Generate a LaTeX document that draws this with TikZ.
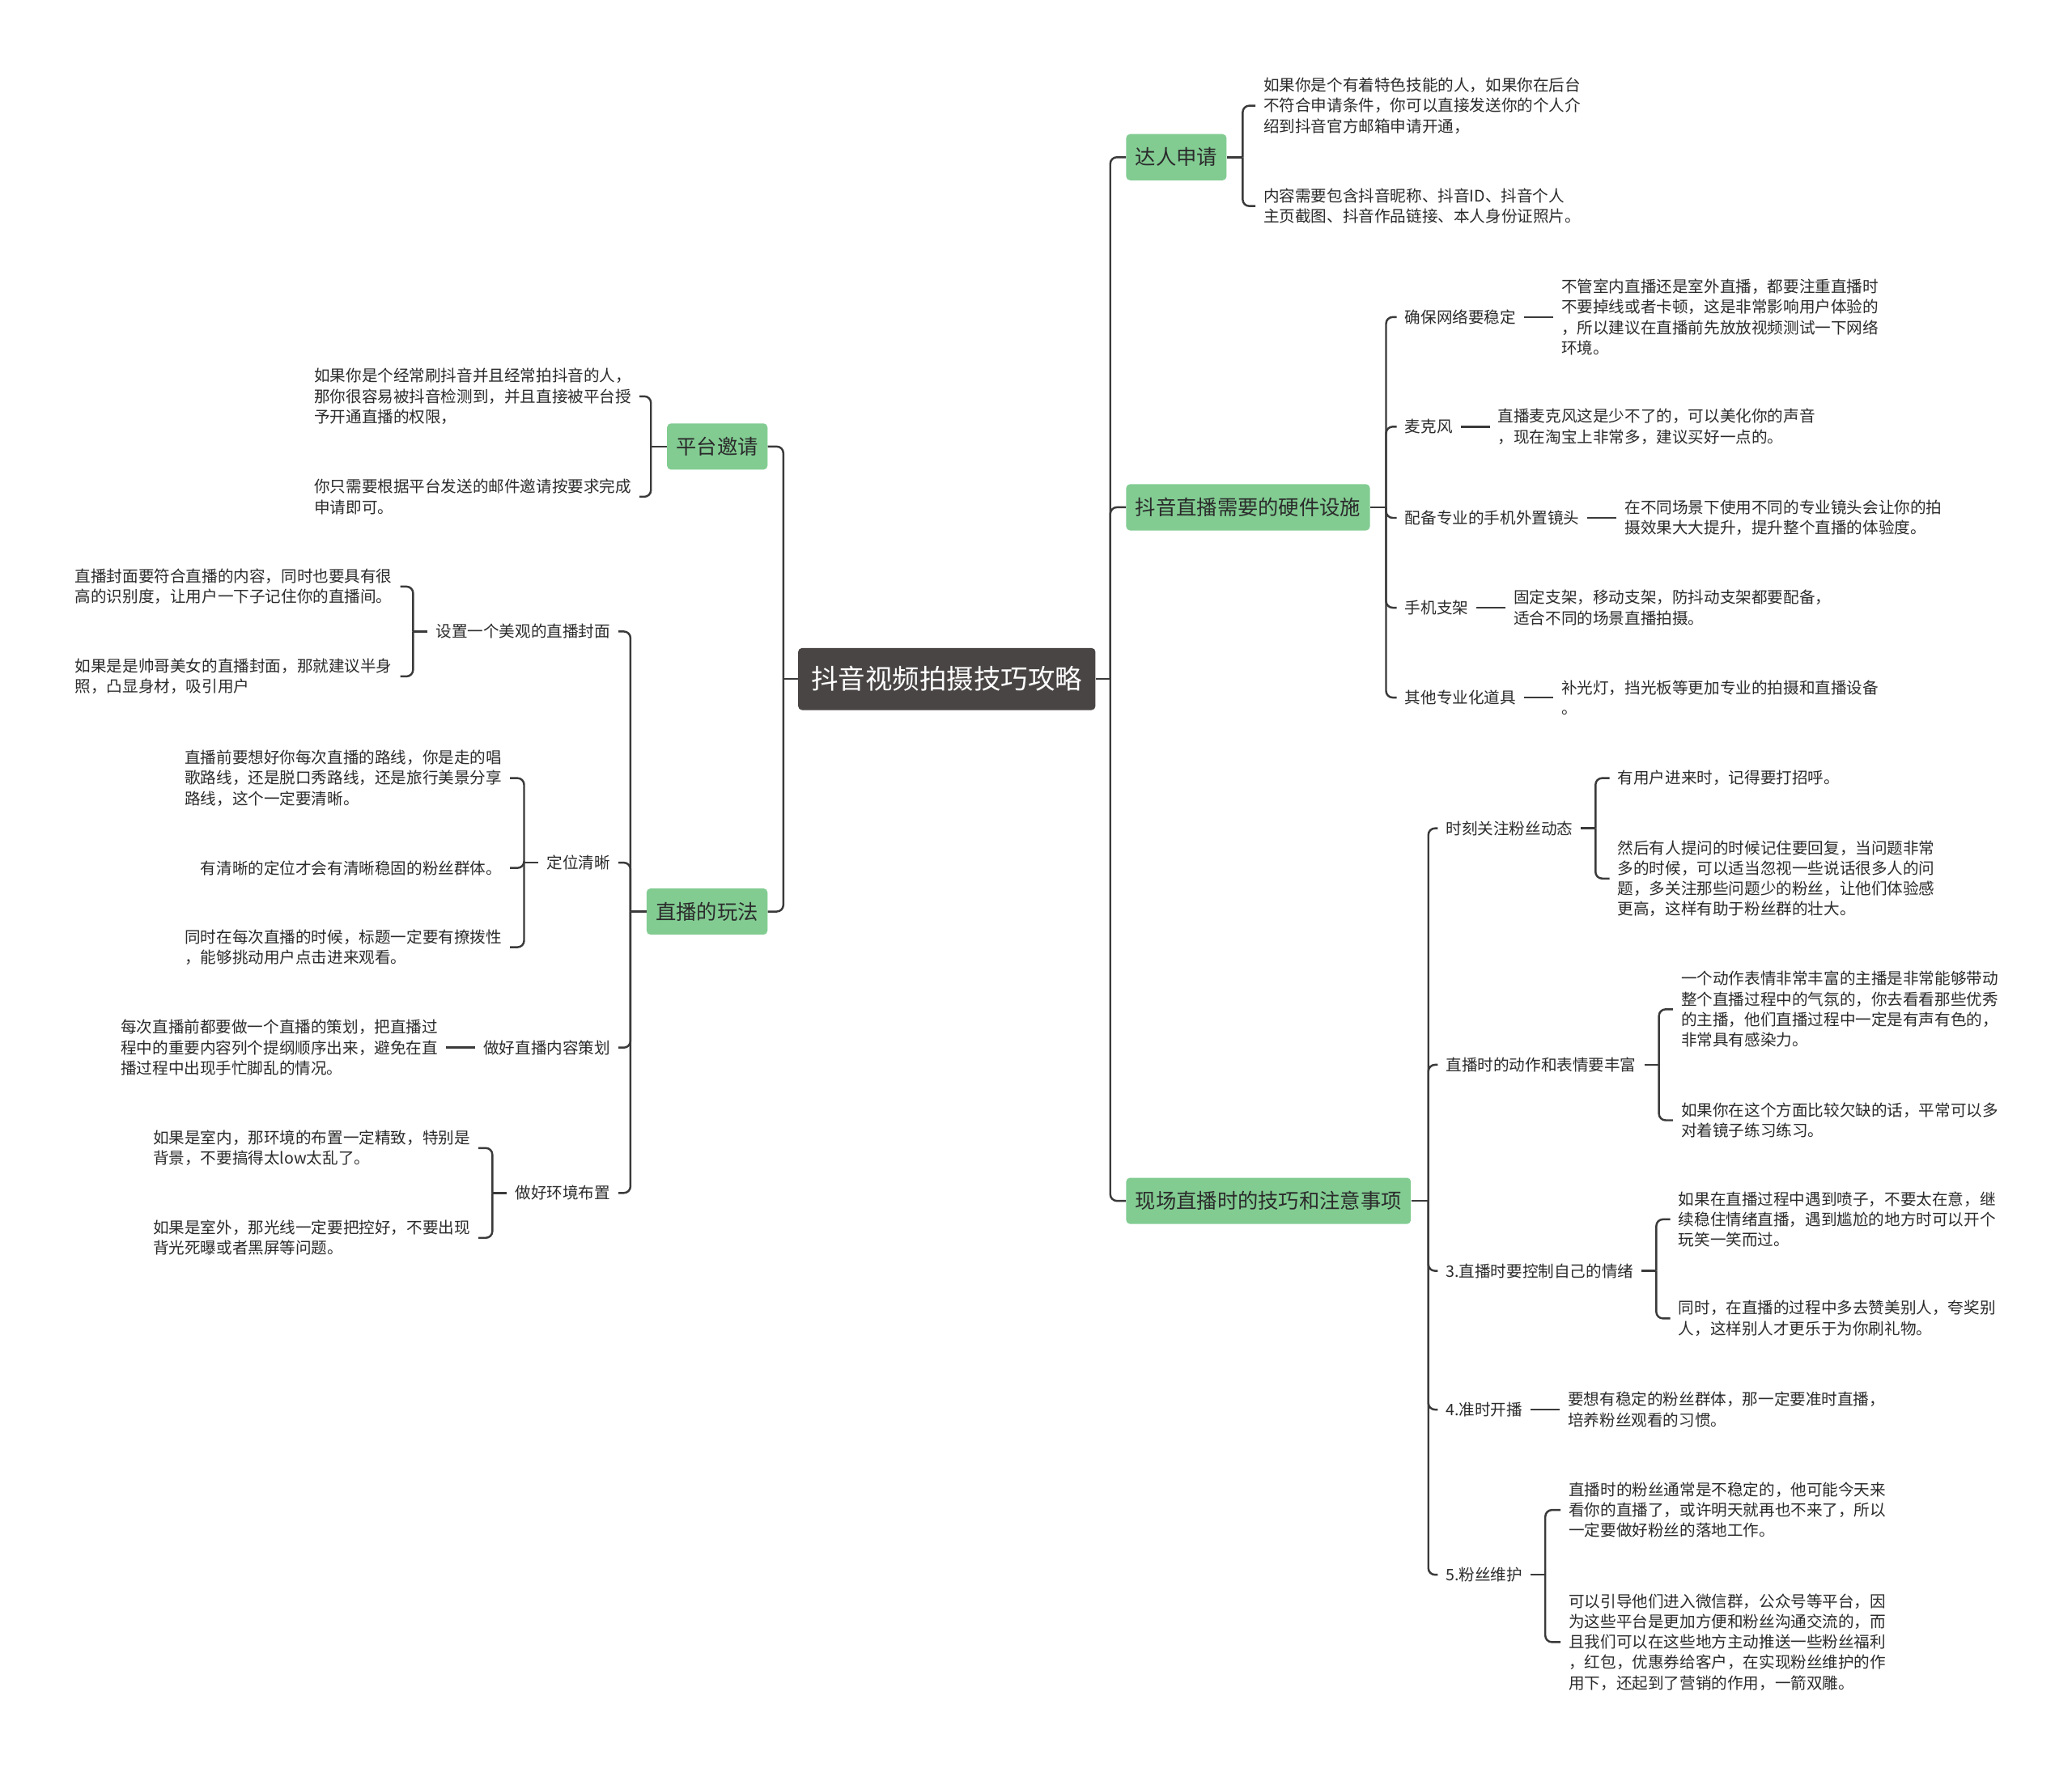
\documentclass[tikz,border=0pt]{standalone}
\usepackage{fontspec}
\setmainfont{Noto Sans CJK SC}
\usetikzlibrary{positioning}
\definecolor{rootgray}{HTML}{4A4545}
\definecolor{topicgreen}{HTML}{82CC92}
\definecolor{linegray}{HTML}{3A3A3A}
\definecolor{textdark}{HTML}{2B2B2B}

\begin{document}
\begin{tikzpicture}[x=1pt,y=-1pt,
root/.style={fill=rootgray,rounded corners=3pt,text=white,font=\fontsize{20.5}{24}\selectfont,inner xsep=10pt,minimum height=47pt},
topic/.style={fill=topicgreen,rounded corners=3pt,text=textdark,font=\fontsize{15.5}{18}\selectfont,inner xsep=7pt,minimum height=35pt},
sub/.style={text=textdark,font=\fontsize{12}{15.5}\selectfont,inner xsep=6pt,inner ysep=2pt,align=left},
leaf/.style={sub},
link/.style={draw=linegray,line width=1.5pt,rounded corners=5pt}]
\fill[white](0,0)rectangle(1568,1338);
\useasboundingbox(0,0)rectangle(1568,1338);
\node[root](main)at(716.5,514){抖音视频拍摄技巧攻略};
\node[topic,anchor=west](apply)at(852,119){达人申请};
\node[topic,anchor=west](gear)at(852,384){抖音直播需要的硬件设施};
\node[topic,anchor=west](onsite)at(852,909){现场直播时的技巧和注意事项};
\node[topic,anchor=east](invite)at(581,338){平台邀请};
\node[topic,anchor=east](play)at(581,690){直播的玩法};
\draw[link](main.east)--++(11,0)coordinate(rj);
\foreach \t in {apply,gear,onsite}\draw[link](rj)|-(\t.west);
\draw[link](main.west)--++(-11,0)coordinate(lj);
\foreach \t in {invite,play}\draw[link](lj)|-(\t.east);

\node[leaf,anchor=west](apply1)at(950,80){如果你是个有着特色技能的人，如果你在后台\\不符合申请条件，你可以直接发送你的个人介\\绍到抖音官方邮箱申请开通，};
\node[leaf,anchor=west](apply2)at(950,156){内容需要包含抖音昵称、抖音ID、抖音个人\\主页截图、抖音作品链接、本人身份证照片。};
\draw[link](apply.east)--++(12,0)coordinate(aj);
\foreach \c in {apply1,apply2}\draw[link](aj)|-(\c.west);

\node[sub,anchor=west](net)at(1057,240){确保网络要稳定};
\node[sub,anchor=west](mic)at(1057,323){麦克风};
\node[sub,anchor=west](lens)at(1057,392){配备专业的手机外置镜头};
\node[sub,anchor=west](stand)at(1057,460){手机支架};
\node[sub,anchor=west](props)at(1057,528){其他专业化道具};
\node[leaf,right=22pt of net](netx){不管室内直播还是室外直播，都要注重直播时\\不要掉线或者卡顿，这是非常影响用户体验的\\，所以建议在直播前先放放视频测试一下网络\\环境。};
\node[leaf,right=22pt of mic](micx){直播麦克风这是少不了的，可以美化你的声音\\，现在淘宝上非常多，建议买好一点的。};
\node[leaf,right=22pt of lens](lensx){在不同场景下使用不同的专业镜头会让你的拍\\摄效果大大提升，提升整个直播的体验度。};
\node[leaf,right=22pt of stand](standx){固定支架，移动支架，防抖动支架都要配备，\\适合不同的场景直播拍摄。};
\node[leaf,right=22pt of props](propsx){补光灯，挡光板等更加专业的拍摄和直播设备\\。};
\draw[link](gear.east)--++(12,0)coordinate(gj);
\foreach \c in {net,mic,lens,stand,props}{\draw[link](gj)|-(\c.west);\draw[link](\c)--(\c x);}

\node[sub,anchor=west](fans)at(1088,627){时刻关注粉丝动态};
\node[sub,anchor=west](act)at(1088,806){直播时的动作和表情要丰富};
\node[sub,anchor=west](mood)at(1088,962){3.直播时要控制自己的情绪};
\node[sub,anchor=west](ontime)at(1088,1067){4.准时开播};
\node[sub,anchor=west](keep)at(1088,1192){5.粉丝维护};
\draw[link](onsite.east)--++(13,0)coordinate(oj);
\foreach \c in {fans,act,mood,ontime,keep}\draw[link](oj)|-(\c.west);
\node[leaf,anchor=west](fans1)at(1218,589){有用户进来时，记得要打招呼。};
\node[leaf,anchor=west](fans2)at(1218,665){然后有人提问的时候记住要回复，当问题非常\\多的时候，可以适当忽视一些说话很多人的问\\题，多关注那些问题少的粉丝，让他们体验感\\更高，这样有助于粉丝群的壮大。};
\node[leaf,anchor=west](act1)at(1266,764){一个动作表情非常丰富的主播是非常能够带动\\整个直播过程中的气氛的，你去看看那些优秀\\的主播，他们直播过程中一定是有声有色的，\\非常具有感染力。};
\node[leaf,anchor=west](act2)at(1266,848){如果你在这个方面比较欠缺的话，平常可以多\\对着镜子练习练习。};
\node[leaf,anchor=west](mood1)at(1264,923){如果在直播过程中遇到喷子，不要太在意，继\\续稳住情绪直播，遇到尴尬的地方时可以开个\\玩笑一笑而过。};
\node[leaf,anchor=west](mood2)at(1264,998){同时，在直播的过程中多去赞美别人，夸奖别\\人，这样别人才更乐于为你刷礼物。};
\node[leaf,right=22pt of ontime](ontimex){要想有稳定的粉丝群体，那一定要准时直播，\\培养粉丝观看的习惯。};
\node[leaf,anchor=west](keep1)at(1181,1143){直播时的粉丝通常是不稳定的，他可能今天来\\看你的直播了，或许明天就再也不来了，所以\\一定要做好粉丝的落地工作。};
\node[leaf,anchor=west](keep2)at(1181,1243){可以引导他们进入微信群，公众号等平台，因\\为这些平台是更加方便和粉丝沟通交流的，而\\且我们可以在这些地方主动推送一些粉丝福利\\，红包，优惠券给客户，在实现粉丝维护的作\\用下，还起到了营销的作用，一箭双雕。};
\foreach \p in {fans,act,mood,keep}{\draw[link](\p.east)--++(11,0)coordinate(\p j);
  \foreach \n in {1,2}\draw[link](\p j)|-(\p\n.west);}
\draw[link](ontime)--(ontimex);

\node[leaf,anchor=east](invite1)at(484,300){如果你是个经常刷抖音并且经常拍抖音的人，\\那你很容易被抖音检测到，并且直接被平台授\\予开通直播的权限，};
\node[leaf,anchor=east](invite2)at(484,376){你只需要根据平台发送的邮件邀请按要求完成\\申请即可。};
\draw[link](invite.west)--++(-12,0)coordinate(ij);
\foreach \c in {invite1,invite2}\draw[link](ij)|-(\c.east);

\node[sub,anchor=east](cover)at(468,478){设置一个美观的直播封面};
\node[sub,anchor=east](pos)at(468,653){定位清晰};
\node[sub,anchor=east](plan)at(468,793){做好直播内容策划};
\node[sub,anchor=east](env)at(468,903){做好环境布置};
\draw[link](play.west)--++(-12,0)coordinate(pj);
\foreach \c in {cover,pos,plan,env}\draw[link](pj)|-(\c.east);
\node[leaf,anchor=east](cover1)at(303,444){直播封面要符合直播的内容，同时也要具有很\\高的识别度，让用户一下子记住你的直播间。};
\node[leaf,anchor=east](cover2)at(303,512){如果是是帅哥美女的直播封面，那就建议半身\\照，凸显身材，吸引用户};
\node[leaf,anchor=east](pos1)at(386,589){直播前要想好你每次直播的路线，你是走的唱\\歌路线，还是脱口秀路线，还是旅行美景分享\\路线，这个一定要清晰。};
\node[leaf,anchor=east](pos2)at(386,657){有清晰的定位才会有清晰稳固的粉丝群体。};
\node[leaf,anchor=east](pos3)at(386,717){同时在每次直播的时候，标题一定要有撩拨性\\，能够挑动用户点击进来观看。};
\node[leaf,left=22pt of plan](planx){每次直播前都要做一个直播的策划，把直播过\\程中的重要内容列个提纲顺序出来，避免在直\\播过程中出现手忙脚乱的情况。};
\node[leaf,anchor=east](env1)at(362,869){如果是室内，那环境的布置一定精致，特别是\\背景，不要搞得太low太乱了。};
\node[leaf,anchor=east](env2)at(362,937){如果是室外，那光线一定要把控好，不要出现\\背光死曝或者黑屏等问题。};
\draw[link](cover.west)--++(-11,0)coordinate(cj);
\foreach \c in {cover1,cover2}\draw[link](cj)|-(\c.east);
\draw[link](pos.west)--++(-11,0)coordinate(qj);
\foreach \c in {pos1,pos2,pos3}\draw[link](qj)|-(\c.east);
\draw[link](plan)--(planx);
\draw[link](env.west)--++(-11,0)coordinate(ej);
\foreach \c in {env1,env2}\draw[link](ej)|-(\c.east);
\end{tikzpicture}
\end{document}
